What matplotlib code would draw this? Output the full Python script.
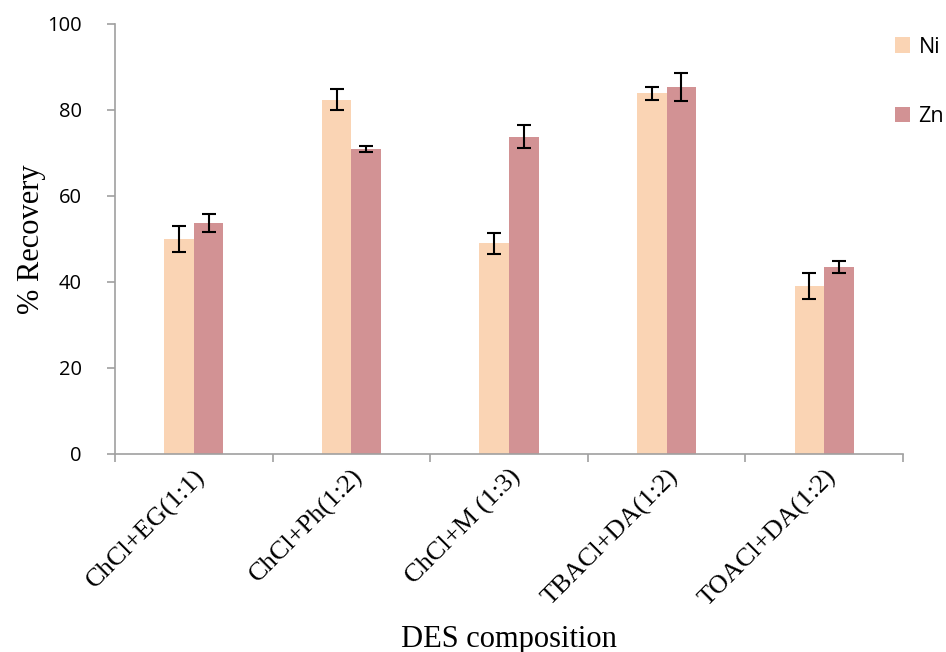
import matplotlib.pyplot as plt
import numpy as np

categories = ['ChCl+EG(1:1)', 'ChCl+Ph(1:2)', 'ChCl+M (1:3)', 'TBACl+DA(1:2)', 'TOACl+DA(1:2)']
ni_values = [50.0, 82.4, 49.0, 83.9, 39.1]
ni_errors = [3.0, 2.4, 2.5, 1.5, 3.1]
zn_values = [53.7, 71.0, 73.8, 85.3, 43.5]
zn_errors = [2.1, 0.7, 2.6, 3.2, 1.4]

NI_COLOR = '#FAD4B4'
ZN_COLOR = '#D29294'
AXIS_GREY = '#A0A0A0'

fig = plt.figure(figsize=(9.46, 6.52), dpi=100)
ax = fig.add_axes([0.1216, 0.3037, 0.8330, 0.6595])

x = np.arange(len(categories))
width = 0.1875

err_kw = dict(ecolor='black', elinewidth=1.5, capsize=5, capthick=1.5)
ax.bar(x - width / 2, ni_values, width, yerr=ni_errors, color=NI_COLOR,
       label='Ni', error_kw=err_kw)
ax.bar(x + width / 2, zn_values, width, yerr=zn_errors, color=ZN_COLOR,
       label='Zn', error_kw=err_kw)

ax.set_xlim(-0.5, len(categories) - 0.5)
ax.set_ylim(0, 100)
ax.set_yticks(np.arange(0, 101, 20))

# category ticks sit between groups, labels at group centres
ax.set_xticks(np.arange(-0.5, len(categories)), minor=False)
ax.set_xticklabels([])
ax.set_xticks(x, minor=True)
ax.set_xticklabels(categories, minor=True, rotation=45, ha='right',
                   rotation_mode='anchor', family='Liberation Serif', fontsize=19)
ax.tick_params(axis='x', which='minor', length=0, pad=8)
ax.tick_params(axis='x', which='major', length=6, color=AXIS_GREY, width=1.2)
ax.tick_params(axis='y', length=6, color=AXIS_GREY, width=1.2, labelsize=14.5, pad=18)
for lbl in ax.get_yticklabels():
    lbl.set_family('Open Sans')

for side in ['top', 'right']:
    ax.spines[side].set_visible(False)
for side in ['left', 'bottom']:
    ax.spines[side].set_color(AXIS_GREY)
    ax.spines[side].set_linewidth(1.2)

ax.set_ylabel('% Recovery', family='Liberation Serif', fontsize=22, labelpad=1)
ax.set_xlabel('DES composition', family='Liberation Serif', fontsize=22, labelpad=10)

fig.legend(loc='upper left', bbox_to_anchor=(0.946, 0.944), frameon=False,
           prop={'family': 'Open Sans', 'size': 15.5}, labelspacing=2.25,
           handlelength=0.7, handleheight=0.7, handletextpad=0.4, borderpad=0,
           borderaxespad=0)

plt.savefig('out.png', dpi=100)
